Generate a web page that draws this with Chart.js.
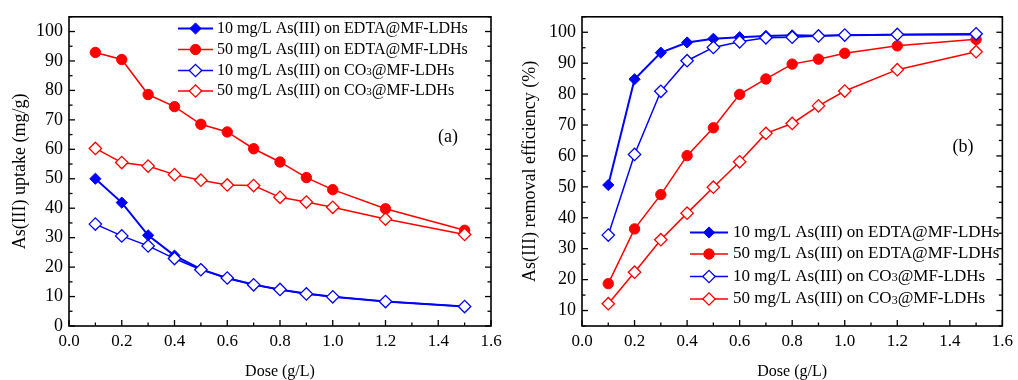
<!DOCTYPE html>
<html><head><meta charset="utf-8">
<script src="https://cdn.jsdelivr.net/npm/chart.js@4/dist/chart.umd.min.js"></script>
<style>
html,body{margin:0;padding:0;background:#fff;}
#wrap{position:relative;width:1018px;height:380px;overflow:hidden;}
.c{position:absolute;top:0;width:509px;height:380px;}
</style></head><body>
<div id="wrap">
<div class="c" style="left:0"><canvas id="ca" width="509" height="380"></canvas></div>
<div class="c" style="left:509px"><canvas id="cb" width="509" height="380"></canvas></div>
</div>
<script>
// ---- data ----
const doses = [0.1, 0.2, 0.3, 0.4, 0.5, 0.6, 0.7, 0.8, 0.9, 1.0, 1.2, 1.5];
const seriesLabels = [
  '10 mg/L As(III) on EDTA@MF-LDHs',
  '50 mg/L As(III) on EDTA@MF-LDHs',
  '10 mg/L As(III) on CO3@MF-LDHs',
  '50 mg/L As(III) on CO3@MF-LDHs'
];
// (a) As(III) uptake (mg/g)
const uptakeEdta10 = [50.0, 41.9, 30.8, 23.9, 19.3, 16.2, 14.1, 12.3, 11.0, 9.9, 8.3, 6.6];
const uptakeEdta50 = [92.9, 90.5, 78.6, 74.5, 68.5, 65.9, 60.2, 55.7, 50.4, 46.3, 39.8, 32.5];
const uptakeCo10   = [34.6, 30.6, 27.2, 22.9, 19.1, 16.3, 14.0, 12.4, 10.9, 9.9, 8.3, 6.6];
const uptakeCo50   = [60.3, 55.5, 54.3, 51.4, 49.5, 47.9, 47.7, 43.7, 42.1, 40.3, 36.3, 31.1];
// (b) As(III) removal efficiency (%)
const removalEdta10 = [50.6, 84.8, 93.4, 96.7, 97.9, 98.4, 98.8, 99.0, 98.9, 99.0, 99.2, 99.3];
const removalEdta50 = [18.7, 36.4, 47.5, 60.1, 69.1, 79.9, 84.9, 89.7, 91.3, 93.2, 95.6, 97.7];
const removalCo10   = [34.4, 60.5, 80.9, 90.8, 95.1, 96.9, 98.2, 98.4, 98.8, 99.1, 99.3, 99.5];
const removalCo50   = [12.2, 22.4, 32.9, 41.5, 49.9, 58.1, 67.3, 70.5, 76.2, 81.0, 87.9, 93.7];
// ticks
const xTicks = [0, 0.2, 0.4, 0.6, 0.8, 1.0, 1.2, 1.4, 1.6];
const yTicksA = [0, 10, 20, 30, 40, 50, 60, 70, 80, 90, 100];
const yTicksB = [10, 20, 30, 40, 50, 60, 70, 80, 90, 100];

// ---- styling ----
const FONT = '"Liberation Serif", "Times New Roman", serif';
const BLUE = '#0000ff', RED = '#ff0000';
const styles = [
  {color: BLUE, point: 'rectRot', fill: BLUE, r: 5.6, lw: 2, pbw: 1, order: 2},
  {color: RED, point: 'circle', fill: RED, r: 5.2, lw: 1.5, pbw: 1, order: 3},
  {color: BLUE, point: 'rectRot', fill: '#ffffff', r: 6.2, lw: 1.5, pbw: 1.3, order: 0},
  {color: RED, point: 'rectRot', fill: '#ffffff', r: 6.2, lw: 1.5, pbw: 1.3, order: 1}
];

function drawMarker(ctx, st, x, y) {
  ctx.beginPath();
  if (st.point === 'circle') ctx.arc(x, y, st.r, 0, Math.PI * 2);
  else { ctx.moveTo(x - st.r, y); ctx.lineTo(x, y - st.r); ctx.lineTo(x + st.r, y); ctx.lineTo(x, y + st.r); ctx.closePath(); }
  ctx.fillStyle = st.fill; ctx.fill();
  ctx.lineWidth = st.pbw; ctx.strokeStyle = st.color; ctx.stroke();
}

function drawLabel(ctx, text, x, y, size) {
  ctx.fillStyle = '#000';
  ctx.textBaseline = 'middle'; ctx.textAlign = 'left';
  ctx.font = size + 'px ' + FONT;
  const idx = text.indexOf('CO3');
  if (idx < 0) { ctx.fillText(text, x, y); return; }
  const a = text.slice(0, idx + 2), c = text.slice(idx + 3);
  ctx.fillText(a, x, y); x += ctx.measureText(a).width;
  ctx.font = Math.round(size * 0.68) + 'px ' + FONT;
  ctx.fillText('3', x, y + size * 0.1); x += ctx.measureText('3').width;
  ctx.font = size + 'px ' + FONT;
  ctx.fillText(c, x, y);
}

function framePlugin(cfg) {
  return {
    id: 'frame',
    afterDatasetsDraw(chart) {
      const ctx = chart.ctx, a = chart.chartArea, xs = chart.scales.x, ys = chart.scales.y;
      ctx.save();
      ctx.strokeStyle = '#000';
      ctx.lineWidth = 1.6;
      ctx.strokeRect(a.left, a.top, a.right - a.left, a.bottom - a.top);
      ctx.lineWidth = 1.3;
      const line = (x1, y1, x2, y2) => { ctx.beginPath(); ctx.moveTo(x1, y1); ctx.lineTo(x2, y2); ctx.stroke(); };
      // x ticks (bottom, inward)
      const xv = xs.ticks.map(t => t.value);
      xv.forEach((v, i) => {
        const p = xs.getPixelForValue(v);
        line(p, a.bottom, p, a.bottom - 6);
        if (i < xv.length - 1) { const m = xs.getPixelForValue((v + xv[i + 1]) / 2); line(m, a.bottom, m, a.bottom - 3.5); }
      });
      // y ticks (left and right, inward)
      const yv = ys.ticks.map(t => t.value);
      const yMinor = [];
      yv.forEach((v, i) => { if (i < yv.length - 1) yMinor.push((v + yv[i + 1]) / 2); });
      if (yv[0] - 5 >= ys.min) yMinor.push(yv[0] - 5);
      if (yv[yv.length - 1] + 5 <= ys.max) yMinor.push(yv[yv.length - 1] + 5);
      yv.forEach(v => { const p = ys.getPixelForValue(v); line(a.left, p, a.left + 6, p); line(a.right, p, a.right - 6, p); });
      yMinor.forEach(v => { const p = ys.getPixelForValue(v); line(a.left, p, a.left + 3.5, p); line(a.right, p, a.right - 3.5, p); });
      // axis titles
      ctx.fillStyle = '#000';
      ctx.textAlign = 'center'; ctx.textBaseline = 'middle';
      ctx.font = '16px ' + FONT;
      ctx.fillText('Dose (g/L)', (a.left + a.right) / 2, 372);
      ctx.save();
      ctx.translate(cfg.yTitleX, (a.top + a.bottom) / 2);
      ctx.rotate(-Math.PI / 2);
      ctx.font = '18px ' + FONT;
      ctx.fillText(cfg.yTitle, 0, 0);
      ctx.restore();
      // panel label
      ctx.font = '18px ' + FONT;
      ctx.fillText(cfg.panel, cfg.panelX, cfg.panelY);
      // legend
      seriesLabels.forEach((lab, i) => {
        const st = styles[i], y = cfg.legY[i];
        ctx.strokeStyle = st.color; ctx.lineWidth = st.lw;
        line(cfg.legX0, y, cfg.legX1, y);
        drawMarker(ctx, st, (cfg.legX0 + cfg.legX1) / 2, y);
        drawLabel(ctx, lab, cfg.legTX, y, cfg.legSize);
      });
      ctx.restore();
    }
  };
}

function makeChart(id, series, cfg) {
  const datasets = series.map((arr, i) => ({
    label: seriesLabels[i],
    data: doses.map((d, j) => ({x: d, y: arr[j]})),
    borderColor: styles[i].color,
    backgroundColor: styles[i].fill,
    borderWidth: styles[i].lw,
    pointStyle: styles[i].point,
    pointRadius: styles[i].r,
    pointHoverRadius: styles[i].r,
    pointBorderWidth: styles[i].pbw,
    pointBorderColor: styles[i].color,
    pointBackgroundColor: styles[i].fill,
    tension: 0,
    fill: false,
    order: styles[i].order
  }));
  return new Chart(document.getElementById(id), {
    type: 'line',
    data: {datasets},
    options: {
      responsive: false,
      animation: false,
      devicePixelRatio: 1,
      layout: {padding: {left: 0, top: 14, right: cfg.padRight, bottom: 0}},
      plugins: {legend: {display: false}, tooltip: {enabled: false}},
      scales: {
        x: {
          type: 'linear', min: 0, max: 1.6,
          afterBuildTicks: s => { s.ticks = xTicks.map(v => ({value: v})); },
          afterFit: s => { s.height = 54; },
          grid: {display: false, drawTicks: false},
          border: {display: false},
          ticks: {color: '#000', font: {family: FONT, size: 17}, padding: 5, maxRotation: 0, autoSkip: false,
                  callback: v => Number(v).toFixed(1)}
        },
        y: {
          type: 'linear', min: cfg.yMin, max: cfg.yMax,
          afterBuildTicks: s => { s.ticks = cfg.yTicks.map(v => ({value: v})); },
          afterFit: s => { s.width = cfg.yWidth; },
          grid: {display: false, drawTicks: false},
          border: {display: false},
          ticks: {color: '#000', font: {family: FONT, size: 18}, padding: 6, autoSkip: false,
                  callback: v => String(v)}
        }
      }
    },
    plugins: [framePlugin(cfg)]
  });
}

makeChart('ca', [uptakeEdta10, uptakeEdta50, uptakeCo10, uptakeCo50], {
  yMin: 0, yMax: 105, yTicks: yTicksA, yWidth: 69, padRight: 18,
  yTitle: 'As(III) uptake (mg/g)', yTitleX: 20,
  panel: '(a)', panelX: 448, panelY: 137,
  legX0: 178, legX1: 213, legTX: 217, legY: [28.5, 49.5, 70.5, 91], legSize: 16
});
makeChart('cb', [removalEdta10, removalEdta50, removalCo10, removalCo50], {
  yMin: 5, yMax: 105, yTicks: yTicksB, yWidth: 73, padRight: 11,
  yTitle: 'As(III) removal efficiency (%)', yTitleX: 21,
  panel: '(b)', panelX: 454, panelY: 147,
  legX0: 181, legX1: 219, legTX: 224, legY: [232.5, 254, 276.5, 299], legSize: 17
});
</script>
</body></html>
